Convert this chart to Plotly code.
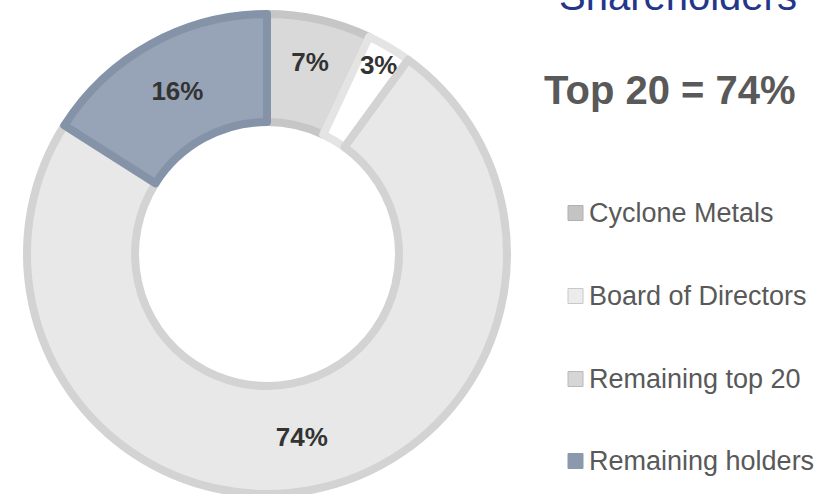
import plotly.graph_objects as go

# ---- data ----
labels = ["Cyclone Metals", "Board of Directors", "Remaining top 20", "Remaining holders"]
values = [7, 3, 74, 16]
title_text = "Shareholders"
summary_text = "Top 20 = 74%"

# ---- styles ----
fill_colors = ["#d9d9d9", "#ffffff", "#e8e8e8", "#97a3b6"]
line_colors = ["#c6c6c6", "#e4e4e4", "#d3d3d3", "#8593a8"]
legend_fill = ["#c4c4c4", "#ececec", "#d6d6d6", "#8c98ab"]
legend_line = ["#b0b0b0", "#c8c8c8", "#b8b8b8", "#8c98ab"]
FONT = "Arial, 'Liberation Sans', sans-serif"
W, H = 836, 494

fig = go.Figure()
fig.add_trace(go.Pie(
    labels=labels,
    values=values,
    sort=False,
    direction="clockwise",
    rotation=0,
    hole=0.55,
    marker=dict(colors=fill_colors, line=dict(color=line_colors, width=8)),
    texttemplate="<b>%{value}%</b>",
    textposition="inside",
    insidetextorientation="horizontal",
    textfont=dict(family=FONT, size=26, color="#333333"),
    domain=dict(x=[27 / W, 507 / W], y=[0, 480 / H]),
    showlegend=False,
))

def py(px):
    return 1 - px / H

annotations = [
    dict(text=title_text, x=678 / W, y=py(-4), xref="paper", yref="paper",
         xanchor="center", yanchor="middle", showarrow=False,
         font=dict(family=FONT, size=40, color="#23368a")),
    dict(text="<b>" + summary_text + "</b>", x=670 / W, y=py(90), xref="paper", yref="paper",
         xanchor="center", yanchor="middle", showarrow=False,
         font=dict(family=FONT, size=40, color="#595959")),
]
shapes = []
row_y = [213, 296, 379, 461]
for i, lab in enumerate(labels):
    yc = row_y[i]
    shapes.append(dict(type="rect", xref="paper", yref="paper",
                       x0=568 / W, x1=583 / W, y0=py(yc + 7.5), y1=py(yc - 7.5),
                       fillcolor=legend_fill[i], line=dict(color=legend_line[i], width=1)))
    annotations.append(dict(text=lab, x=587 / W, y=py(yc), xref="paper", yref="paper",
                            xanchor="left", yanchor="middle", showarrow=False,
                            font=dict(family=FONT, size=27, color="#595959")))

fig.update_layout(
    width=W, height=H,
    margin=dict(l=0, r=0, t=0, b=0),
    paper_bgcolor="white", plot_bgcolor="white",
    uniformtext=dict(minsize=26, mode="show"),
    annotations=annotations,
    shapes=shapes,
)

fig.write_html("out.html", config={"displayModeBar": False},
               post_script="document.body.style.margin='0';")
